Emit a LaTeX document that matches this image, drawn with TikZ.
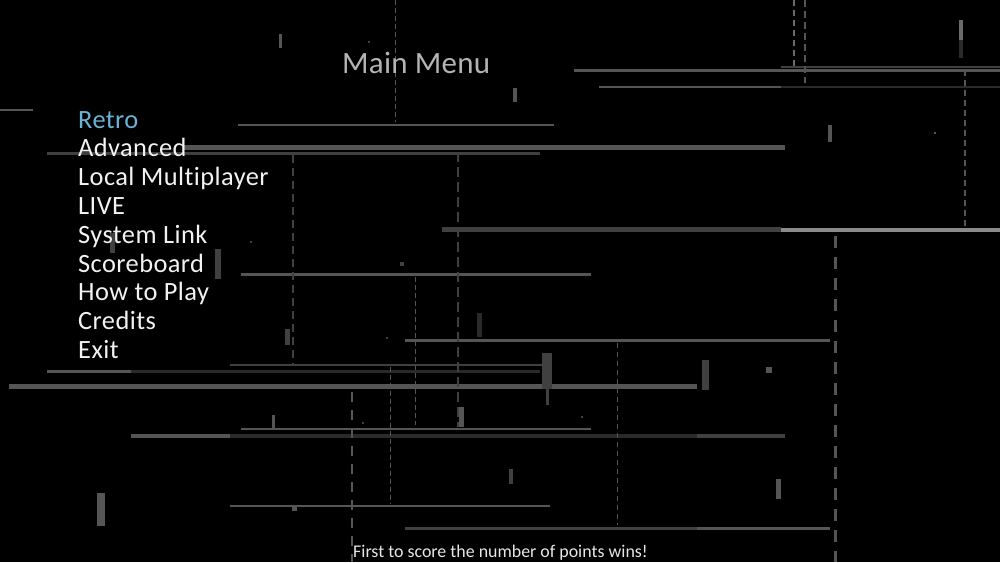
\documentclass[tikz,border=0pt]{standalone}
\usepackage{fontspec}
\setmainfont{Carlito}[Ligatures={NoCommon}]
\definecolor{gA}{HTML}{2A2A2A}
\definecolor{gB}{HTML}{404040}
\definecolor{gC}{HTML}{555555}
\definecolor{gD}{HTML}{6A6A6A}
\definecolor{gE}{HTML}{8A8A8A}
\definecolor{menuwhite}{HTML}{F2F2F2}
\definecolor{menublue}{HTML}{6AB4D8}
\definecolor{titlegray}{HTML}{B4B4B4}
\tikzset{
  hline/.style={line cap=butt},
  vdash/.style={line cap=butt},
  menuitem/.style={anchor=base west, inner sep=0pt, text=menuwhite, font=\fontsize{26.4}{30}\selectfont\addfontfeatures{LetterSpace=1.6}},
  titletext/.style={anchor=base west, inner sep=0pt, text=titlegray, font=\fontsize{31}{34}\selectfont\addfontfeatures{LetterSpace=0.8}},
  foottext/.style={anchor=base west, inner sep=0pt, text=menuwhite!90!gray, font=\fontsize{17.9}{20}\selectfont}
}
\begin{document}
\begin{tikzpicture}[x=1pt,y=-1pt]
\fill[black] (0,0) rectangle (1000,562);
\path[use as bounding box] (0,0) rectangle (1000,562);
% horizontal lines
\draw[hline,gB,line width=2] (781,66.7) -- (1000,66.7);
\draw[hline,gC,line width=3] (574,70.5) -- (1000,70.5);
\draw[hline,gC,line width=2] (599,86.5) -- (781,86.5);
\draw[hline,gA,line width=2] (781,86.5) -- (1000,86.5);
\draw[hline,gC,line width=2] (0,110) -- (33,110);
\draw[hline,gC,line width=2] (238,124.5) -- (554,124.5);
\draw[hline,gC,line width=5] (183,147) -- (785,147);
\draw[hline,gB,line width=3] (47,153.5) -- (540,153.5);
\draw[hline,gB,line width=5] (442,229.5) -- (781,229.5);
\draw[hline,gE,line width=4] (781,229.5) -- (1000,229.5);
\draw[hline,gC,line width=3] (241,274.5) -- (591,274.5);
\draw[hline,gC,line width=3] (405,340.5) -- (830,340.5);
\draw[hline,gB,line width=2] (230,365) -- (550,365);
\draw[hline,gC,line width=3] (47,371) -- (131,371);
\draw[hline,gA,line width=3] (131,371) -- (540,371);
\draw[hline,gC,line width=5] (9,386) -- (697,386);
\draw[hline,gC,line width=2] (241,429) -- (591,429);
\draw[hline,gC,line width=4] (131,435.5) -- (230,435.5);
\draw[hline,gA,line width=4] (230,435.5) -- (697,435.5);
\draw[hline,gB,line width=4] (697,435.5) -- (785,435.5);
\draw[hline,gC,line width=2] (230,506) -- (550,506);
\draw[hline,gB,line width=3] (405,528) -- (697,528);
\draw[hline,gC,line width=3] (697,528) -- (830,528);
% vertical dashed lines
\draw[vdash,gC,line width=1,dash pattern=on 5 off 3] (395,0) -- (395,122);
\draw[vdash,gD,line width=1.2,dash pattern=on 6 off 4] (794,0) -- (794,67);
\draw[vdash,gC,line width=1.5,dash pattern=on 7 off 4] (805,0) -- (805,83);
\draw[vdash,gC,line width=1.2,dash pattern=on 6 off 4] (965,70) -- (965,228);
\draw[vdash,gB,line width=2,dash pattern=on 8 off 5] (293,155) -- (293,365);
\draw[vdash,gB,line width=2,dash pattern=on 10 off 5] (458,152) -- (458,427);
\draw[vdash,gC,line width=1,dash pattern=on 5 off 3] (415,277) -- (415,425);
\draw[vdash,gC,line width=3,dash pattern=on 12 off 9] (835,236) -- (835,562);
\draw[vdash,gC,line width=1,dash pattern=on 5 off 3] (390,367) -- (390,504);
\draw[vdash,gC,line width=2.5,dash pattern=on 10 off 8] (352,392) -- (352,562);
\draw[vdash,gC,line width=1,dash pattern=on 5 off 4] (617,343) -- (617,525);
% bars
\fill[gC] (279,34) rectangle (282,48);
\fill[gD] (959,20) rectangle (963,40);
\fill[gA] (959,40) rectangle (963,58);
\fill[gC] (513,88) rectangle (517,102);
\fill[gC] (828,125) rectangle (832,142);
\fill[gB] (110,233) rectangle (115,253);
\fill[gB] (215,249) rectangle (221,279);
\fill[gA] (477,313) rectangle (482,337);
\fill[gB] (285,329) rectangle (290,345);
\fill[gB] (542,353) rectangle (552,389);
\fill[gB] (546,389) rectangle (549,405);
\fill[gB] (702,360) rectangle (709,390);
\fill[gC] (459,407) rectangle (464,427);
\fill[gC] (272,415) rectangle (275,430);
\fill[gB] (509,469) rectangle (513,484);
\fill[gC] (776,479) rectangle (781,499);
\fill[gC] (97,493) rectangle (105,526);
% dots
\fill[gB] (368,41) rectangle (370,43);
\fill[gC] (934,132) rectangle (936,134);
\fill[gB] (250,241) rectangle (252,243);
\fill[gB] (400,262) rectangle (404,266);
\fill[gB] (386,337) rectangle (388,339);
\fill[gC] (766,367) rectangle (772,373);
\fill[gB] (362,422) rectangle (364,424);
\fill[gB] (581,416) rectangle (583,418);
\fill[gC] (292,506) rectangle (297,511);
% texts
\node[titletext] (title) at (342,73) {Main Menu};
\node[menuitem,text=menublue] (retro) at (78,128) {Retro};
\node[menuitem] (advanced) at (78,156.8) {Advanced};
\node[menuitem] (local) at (78,185.6) {Local Multiplayer};
\node[menuitem] (live) at (78,214.4) {LIVE};
\node[menuitem] (syslink) at (78,243.2) {System Link};
\node[menuitem] (scoreboard) at (78,272) {Scoreboard};
\node[menuitem] (howto) at (78,300.8) {How to Play};
\node[menuitem] (credits) at (78,329.6) {Credits};
\node[menuitem] (exit) at (78,358.4) {Exit};
\node[foottext] (footer) at (353,557) {First to score the number of points wins!};
\end{tikzpicture}
\end{document}
